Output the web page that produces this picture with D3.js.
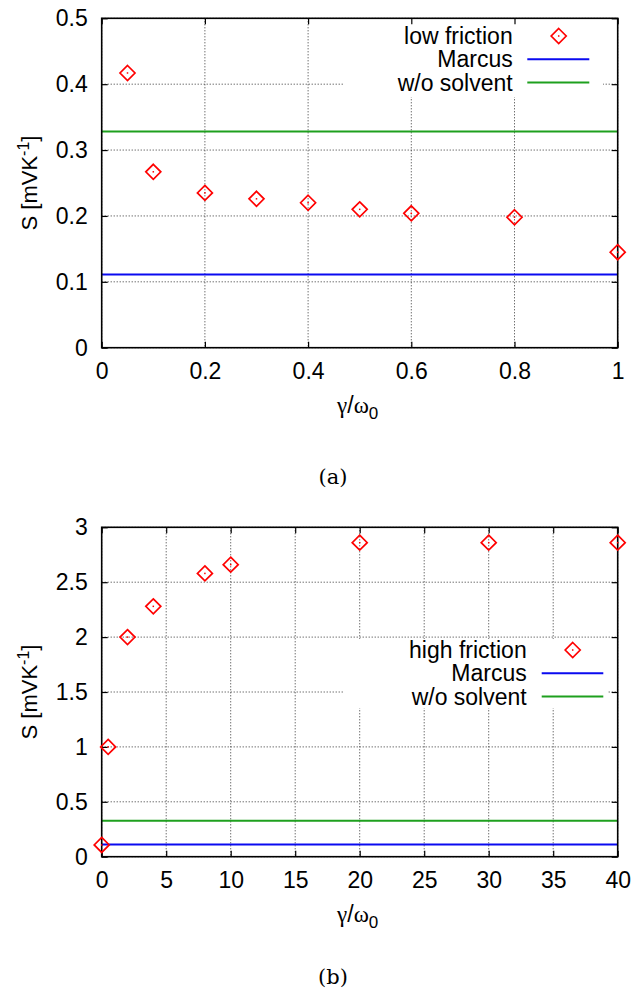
<!DOCTYPE html>
<html>
<head>
<meta charset="utf-8">
<script src="https://cdn.jsdelivr.net/npm/d3@7"></script>
<style>
  body { margin: 0; background: #fff; }
  svg { display: block; }
  .tickLab text { font-family: "Liberation Sans", Arial, sans-serif; font-size: 23px; fill: #000; }
</style>
</head>
<body>
<div id="chart"></div>
<script>
// ---- data ----
var lowGamma = [0.05, 0.1, 0.2, 0.3, 0.4, 0.5, 0.6, 0.8, 1.0];
var lowS = [0.417, 0.267, 0.235, 0.226, 0.220, 0.210, 0.204, 0.198, 0.145];

var highGamma = [0, 0.5, 2, 4, 8, 10, 20, 30, 40];
var highS = [0.107, 1.0, 2.0, 2.28, 2.58, 2.66, 2.86, 2.86, 2.86];

var marcusS = 0.111;
var noSolventS = 0.328;

var lowXTicks = [0, 0.2, 0.4, 0.6, 0.8, 1];
var lowYTicks = [0, 0.1, 0.2, 0.3, 0.4, 0.5];
var highXTicks = [0, 5, 10, 15, 20, 25, 30, 35, 40];
var highYTicks = [0, 0.5, 1, 1.5, 2, 2.5, 3];

var width = 641;
var height = 998;
var left = 101.7;
var right = 617.7;
var tick = 6;

var svg = d3.select("#chart")
  .append("svg")
  .attr("width", width)
  .attr("height", height);

var fmt = d3.format("~g");

// draws one gnuplot-like panel
function drawPanel(p) {
  var x = d3.scaleLinear().domain(p.xDomain).range([left, right]);
  var y = d3.scaleLinear().domain(p.yDomain).range([p.bottom, p.top]);
  var g = svg.append("g");

  // grid
  g.selectAll(".vgrid").data(p.xTicks).enter()
    .append("line")
    .attr("x1", function(d) { return x(d); })
    .attr("x2", function(d) { return x(d); })
    .attr("y1", p.top).attr("y2", p.bottom)
    .attr("stroke", "#333").attr("stroke-width", 1)
    .attr("stroke-dasharray", "1,2");
  g.selectAll(".hgrid").data(p.yTicks).enter()
    .append("line")
    .attr("y1", function(d) { return y(d); })
    .attr("y2", function(d) { return y(d); })
    .attr("x1", left).attr("x2", right)
    .attr("stroke", "#333").attr("stroke-width", 1)
    .attr("stroke-dasharray", "1,2");

  // key background hides grid under it
  g.append("rect")
    .attr("x", p.key.x0).attr("y", p.key.y0)
    .attr("width", p.key.x1 - p.key.x0)
    .attr("height", p.key.y1 - p.key.y0)
    .attr("fill", "#fff");

  // axes (inward ticks, mirrored)
  var xb = g.append("g").attr("class", "tickLab")
    .attr("transform", "translate(0," + p.bottom + ")")
    .call(d3.axisBottom(x).tickValues(p.xTicks).tickSize(-tick).tickPadding(15).tickFormat(fmt));
  var xt = g.append("g")
    .attr("transform", "translate(0," + p.top + ")")
    .call(d3.axisTop(x).tickValues(p.xTicks).tickSize(-tick).tickFormat(""));
  var yl = g.append("g").attr("class", "tickLab")
    .attr("transform", "translate(" + left + ",0)")
    .call(d3.axisLeft(y).tickValues(p.yTicks).tickSize(-tick).tickPadding(14).tickFormat(fmt));
  var yr = g.append("g")
    .attr("transform", "translate(" + right + ",0)")
    .call(d3.axisRight(y).tickValues(p.yTicks).tickSize(-tick).tickFormat(""));
  [xb, xt, yl, yr].forEach(function(a) {
    a.select(".domain").remove();
    a.selectAll(".tick line").attr("stroke", "#000").attr("stroke-width", 1.2);
  });

  // horizontal reference lines
  g.append("line")
    .attr("x1", left).attr("x2", right)
    .attr("y1", y(noSolventS)).attr("y2", y(noSolventS))
    .attr("stroke", "#1ea01e").attr("stroke-width", 2);
  g.append("line")
    .attr("x1", left).attr("x2", right)
    .attr("y1", y(marcusS)).attr("y2", y(marcusS))
    .attr("stroke", "#0a0af0").attr("stroke-width", 2);

  // frame
  g.append("rect")
    .attr("x", left).attr("y", p.top)
    .attr("width", right - left).attr("height", p.bottom - p.top)
    .attr("fill", "none").attr("stroke", "#000").attr("stroke-width", 1.6);

  // points
  var pts = p.xs.map(function(d, i) { return { x: d, y: p.ys[i] }; });
  var pg = g.selectAll(".pt").data(pts).enter().append("g")
    .attr("transform", function(d) { return "translate(" + x(d.x) + "," + y(d.y) + ")"; });
  diamond(pg);

  // key
  var k = p.key;
  var labels = [p.name, "Marcus", "w/o solvent"];
  labels.forEach(function(t, i) {
    g.append("text")
      .attr("x", k.textX).attr("y", k.row0 + i * k.step + 8)
      .attr("text-anchor", "end")
      .style("font-family", "Liberation Sans, Arial, sans-serif")
      .style("font-size", "23px")
      .text(t);
  });
  diamond(g.append("g").attr("transform", "translate(" + k.markX + "," + k.row0 + ")"));
  g.append("line")
    .attr("x1", k.lineX0).attr("x2", k.lineX1)
    .attr("y1", k.row0 + k.step).attr("y2", k.row0 + k.step)
    .attr("stroke", "#0a0af0").attr("stroke-width", 2);
  g.append("line")
    .attr("x1", k.lineX0).attr("x2", k.lineX1)
    .attr("y1", k.row0 + 2 * k.step).attr("y2", k.row0 + 2 * k.step)
    .attr("stroke", "#1ea01e").attr("stroke-width", 2);

  // y label
  var yt = g.append("text")
    .attr("transform", "translate(37," + ((p.top + p.bottom) / 2) + ")rotate(-90)")
    .attr("text-anchor", "middle")
    .style("font-family", "Liberation Sans, Arial, sans-serif")
    .style("font-size", "22px");
  yt.append("tspan").text("S [mVK");
  yt.append("tspan").attr("dy", -8).style("font-size", "16px").text("-1");
  yt.append("tspan").attr("dy", 8).text("]");

  // x label
  var xl = g.append("text")
    .attr("x", (left + right) / 2 - 2).attr("y", p.bottom + 65)
    .attr("text-anchor", "middle")
    .style("font-family", "Liberation Serif, serif")
    .style("font-size", "23px");
  xl.append("tspan").text("γ");
  xl.append("tspan").style("font-family", "Liberation Sans, sans-serif").text("/");
  xl.append("tspan").text("ω");
  xl.append("tspan").attr("dy", 6).style("font-family", "Liberation Sans, sans-serif")
    .style("font-size", "17px").text("0");

  // caption
  svg.append("text")
    .attr("x", 333).attr("y", p.capY)
    .attr("text-anchor", "middle")
    .style("font-family", "DejaVu Serif, Liberation Serif, serif")
    .style("font-size", "21px")
    .text(p.caption);
}

function diamond(sel) {
  var r = 7.5;
  sel.append("path")
    .attr("d", "M0," + (-r) + "L" + r + ",0L0," + r + "L" + (-r) + ",0Z")
    .attr("fill", "none").attr("stroke", "#f00").attr("stroke-width", 1.7);
  sel.append("rect")
    .attr("x", -0.75).attr("y", -0.75).attr("width", 1.5).attr("height", 1.5)
    .attr("fill", "#f00");
}

drawPanel({
  name: "low friction",
  xs: lowGamma, ys: lowS,
  xDomain: [0, 1], yDomain: [0, 0.5],
  xTicks: lowXTicks, yTicks: lowYTicks,
  top: 18.3, bottom: 347.7,
  key: { x0: 343, x1: 603, y0: 19, y1: 97, textX: 512.7, markX: 558.7,
         lineX0: 527.3, lineX1: 589.3, row0: 36, step: 23.3 },
  caption: "(a)", capY: 484
});

drawPanel({
  name: "high friction",
  xs: highGamma, ys: highS,
  xDomain: [0, 40], yDomain: [0, 3],
  xTicks: highXTicks, yTicks: highYTicks,
  top: 527.3, bottom: 856.7,
  key: { x0: 343, x1: 608, y0: 639, y1: 708, textX: 526.7, markX: 572.7,
         lineX0: 541.7, lineX1: 603.3, row0: 650, step: 23.3 },
  caption: "(b)", capY: 984
});
</script>
</body>
</html>
